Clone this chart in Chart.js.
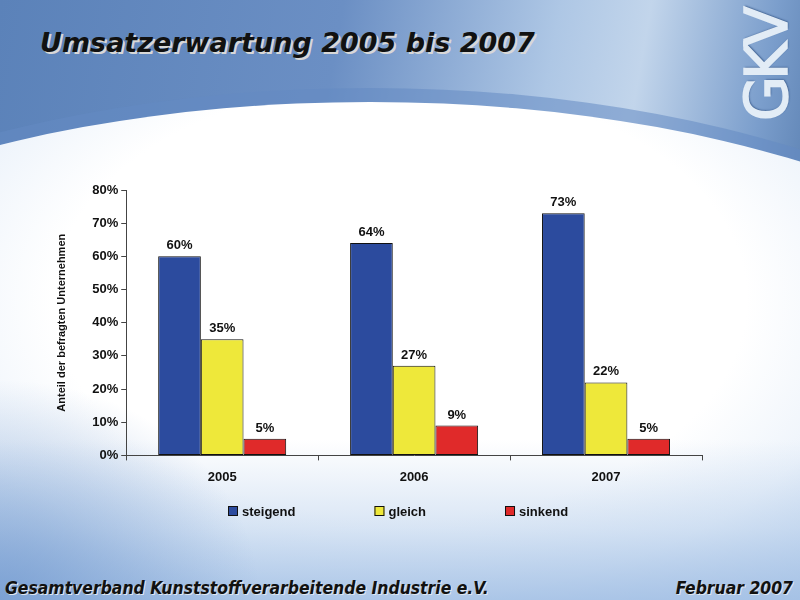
<!DOCTYPE html>
<html>
<head>
<meta charset="utf-8">
<script src="https://cdn.jsdelivr.net/npm/chart.js@4"></script>
<style>
  html, body { margin: 0; padding: 0; }
  body {
    width: 800px; height: 600px; overflow: hidden; position: relative;
    background: linear-gradient(100deg, #5b82b9 0%, #6b8fc4 38%, #aec7e5 62%, #c2d5eb 72%, #7b9ecc 86%, #40679b 100%);
  }
  #rim {
    position: absolute; left: -380px; top: 88px; width: 1500px; height: 680px;
    border-radius: 50%;
    background: rgba(100, 138, 195, 0.55);
  }
  #arc {
    position: absolute; left: -380px; top: 102px; width: 1500px; height: 660px;
    border-radius: 50%;
    background: radial-gradient(ellipse 42% 60% at 52% 30%, #ffffff 0%, #ffffff 55%, #eef4fb 75%, #c3d6ee 100%);
  }
  #bottom {
    position: absolute; left: 0; top: 440px; width: 800px; height: 160px;
    background: linear-gradient(180deg, rgba(170,198,232,0) 0%, rgba(170,198,232,0.45) 55%, rgba(160,190,228,0.85) 100%);
  }
  #bottomLeft {
    position: absolute; left: 0; top: 300px; width: 800px; height: 300px;
    background: radial-gradient(ellipse 260px 220px at 0px 300px, rgba(110,150,205,0.75) 0%, rgba(110,150,205,0) 100%);
  }
  #title {
    position: absolute; left: 40px; top: 27px;
    font: italic bold 27px "DejaVu Sans", Verdana, sans-serif;
    color: #111; text-shadow: 2px 2px 0 #d8d8d8;
    white-space: nowrap;
  }
  .foot {
    position: absolute; top: 578px;
    font: italic bold 17.4px "DejaVu Sans Condensed", "DejaVu Sans", sans-serif;
    color: #111; text-shadow: 1px 1px 0 #e0e8f0;
    white-space: nowrap;
  }
  #logo {
    position: absolute; left: 742px; top: 121px;
    transform: rotate(-90deg); transform-origin: 0 0;
    font: 58px/50px "DejaVu Sans", sans-serif; color: #e2ecf6;
    -webkit-text-stroke: 1.5px #e2ecf6;
    letter-spacing: -4px; white-space: nowrap;
    text-shadow: 1px 1px 2px #2d4f80;
  }
  canvas { position: absolute; left: 0; top: 0; }
</style>
</head>
<body>
<div id="rim"></div>
<div id="arc"></div>
<div id="bottom"></div>
<div id="bottomLeft"></div>
<div id="title">Umsatzerwartung 2005 bis 2007</div>
<div id="logo">GKV</div>
<div class="foot" style="left:5px">Gesamtverband Kunststoffverarbeitende Industrie e.V.</div>
<div class="foot" style="right:7px">Februar 2007</div>
<canvas id="umsatzChart" width="800" height="600"></canvas>
<script>
// Data
const categories = ['2005', '2006', '2007'];
const steigend = [60, 64, 73];
const gleich = [35, 27, 22];
const sinkend = [5, 9, 5];
const yTicks = [0, 10, 20, 30, 40, 50, 60, 70, 80];

const labelFont = '"Liberation Sans", Arial, sans-serif';

// Value labels above the bars
const valueLabels = {
  id: 'valueLabels',
  afterDatasetsDraw(chart) {
    const ctx = chart.ctx;
    ctx.save();
    ctx.font = 'bold 13px ' + labelFont;
    ctx.fillStyle = '#111';
    ctx.textAlign = 'center';
    ctx.textBaseline = 'bottom';
    chart.data.datasets.forEach((ds, i) => {
      chart.getDatasetMeta(i).data.forEach((bar, j) => {
        ctx.fillText(ds.data[j] + '%', bar.x, bar.y - 4);
      });
    });
    ctx.restore();
  }
};

// Legend row with wide gaps between the items
const legendRow = {
  id: 'legendRow',
  afterDraw(chart) {
    const ctx = chart.ctx;
    const items = chart.data.datasets;
    const box = 10, gap = 4, space = 79;
    ctx.save();
    ctx.font = 'bold 13px ' + labelFont;
    const widths = items.map(d => box + gap + ctx.measureText(d.label).width);
    const total = widths.reduce((a, b) => a + b, 0) + space * (items.length - 1);
    let x = Math.round(398 - total / 2);
    const y = 511;
    items.forEach((d, i) => {
      ctx.fillStyle = d.backgroundColor;
      ctx.fillRect(x, y - 5, box, box);
      ctx.strokeStyle = '#111';
      ctx.lineWidth = 1;
      ctx.strokeRect(x + 0.5, y - 4.5, box - 1, box - 1);
      ctx.fillStyle = '#111';
      ctx.textBaseline = 'middle';
      ctx.fillText(d.label, x + box + gap, y + 1);
      x += widths[i] + space;
    });
    ctx.restore();
  }
};

const ctx = document.getElementById('umsatzChart').getContext('2d');

const chart = new Chart(ctx, {
  type: 'bar',
  data: {
    labels: categories,
    datasets: [
      { label: 'steigend', data: steigend, backgroundColor: '#2c4b9e' },
      { label: 'gleich', data: gleich, backgroundColor: '#eee83a' },
      { label: 'sinkend', data: sinkend, backgroundColor: '#e02a2a' }
    ]
  },
  options: {
    responsive: false,
    animation: false,
    layout: { padding: { left: 55, right: 98, top: 190, bottom: 106 } },
    datasets: {
      bar: {
        borderColor: '#111',
        borderWidth: 1,
        borderSkipped: false,
        categoryPercentage: 0.667,
        barPercentage: 1.0
      }
    },
    scales: {
      y: {
        min: 0,
        max: 80,
        afterBuildTicks: axis => { axis.ticks = yTicks.map(v => ({ value: v })); },
        ticks: {
          callback: v => v + '%',
          color: '#111',
          font: { family: labelFont, size: 13, weight: 'bold' },
          padding: 3
        },
        grid: { drawOnChartArea: false, tickLength: 5, color: '#444' },
        border: { color: '#444', width: 1 },
        title: {
          display: true,
          text: 'Anteil der befragten Unternehmen',
          color: '#111',
          font: { family: labelFont, size: 11, weight: 'bold' },
          padding: { top: 0, bottom: 21 }
        }
      },
      x: {
        ticks: {
          color: '#111',
          font: { family: labelFont, size: 13, weight: 'bold' },
          padding: 9
        },
        grid: { drawOnChartArea: false, offset: true, tickLength: 5, color: '#444' },
        border: { color: '#444', width: 1 }
      }
    },
    plugins: {
      legend: { display: false },
      tooltip: { enabled: false }
    }
  },
  plugins: [valueLabels, legendRow]
});
</script>
</body>
</html>
